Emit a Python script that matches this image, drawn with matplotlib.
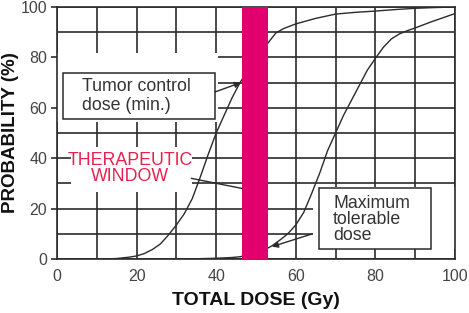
# Dose-response curves: tumour control vs. normal tissue complication, with the therapeutic window
import matplotlib
matplotlib.use('Agg')
import matplotlib.pyplot as plt
from matplotlib.patches import Rectangle

plt.rcParams['font.family'] = ['Liberation Sans', 'DejaVu Sans']

# tumour control probability
tumor_dose = [12, 15, 18, 20, 22, 24, 26, 28, 30, 32, 34, 36, 38, 40, 42, 44, 46,
              48, 50, 52, 53, 55, 57, 60, 65, 70, 75, 80, 85, 90, 95, 100]
tumor_prob = [0, 0.2, 0.7, 1.2, 2.2, 3.8, 6, 9.5, 13.5, 18, 24, 32.5, 41.5, 50, 57, 64, 70,
              75, 79.5, 83.5, 85.7, 89.7, 91.5, 93.3, 95.5, 97.2, 97.9, 98.4, 99, 99.5, 99.8, 100]

# maximum tolerable dose (normal tissue complication) curve
tox_dose = [30, 35, 40, 44, 46, 48, 50, 52, 54, 56, 58, 60, 62, 64, 66, 68, 70,
            72, 74, 76, 78, 80, 82, 84, 86, 88, 90, 92, 94, 96, 98, 100]
tox_prob = [0, 0.1, 0.3, 0.6, 0.9, 1.5, 2.3, 3.5, 5.2, 7.5, 10, 13.5, 18.5, 26, 34, 43, 50,
            57, 63, 69, 75, 79.6, 84, 87.3, 89.3, 90.6, 91.7, 92.9, 94.1, 95.2, 96.3, 97.4]

window = (46.5, 53)
major_ticks = [0, 20, 40, 60, 80, 100]
minor_ticks = list(range(0, 101, 10))

INK = '#2b2b2b'
RED = '#e8224f'
BAR = '#e2006f'

fig = plt.figure(figsize=(4.69, 3.13), dpi=100)
ax = fig.add_axes([0.1215, 0.1725, 0.8485, 0.805])
ax.set_xlim(0, 100)
ax.set_ylim(0, 100)
ax.set_xticks(major_ticks)
ax.set_yticks(major_ticks)
ax.set_xticks(minor_ticks, minor=True)
ax.set_yticks(minor_ticks, minor=True)
ax.set_axisbelow(True)
ax.grid(which='both', color=INK, lw=1.2)
ax.tick_params(which='minor', length=0)
ax.tick_params(axis='x', length=0, pad=7, labelsize=11.5, labelcolor='#444444')
ax.tick_params(axis='y', length=4, width=1.2, pad=3, color=INK, labelsize=11.5, labelcolor='#444444')
for s in ax.spines.values():
    s.set_color(INK)
    s.set_linewidth(1.2)

# white patches that blank the grid behind the labels
for x0, y0, w, h in [(0, 54.5, 40.5, 27.2), (3.5, 26.7, 30.5, 17.8), (64.3, 3.8, 35.7, 24.8)]:
    ax.add_patch(Rectangle((x0, y0), w, h, facecolor='white', edgecolor='none', zorder=1))

ax.plot(tumor_dose, tumor_prob, color=INK, lw=1.0, zorder=2)
ax.plot(tox_dose, tox_prob, color=INK, lw=1.0, zorder=2)
ax.axvspan(window[0], window[1], color=BAR, lw=0, zorder=3)

# label boxes
ax.add_patch(Rectangle((1.5, 55.6), 38.2, 18.2, facecolor='white', edgecolor=INK, lw=1.1, zorder=4))
ax.text(6.3, 64.7, 'Tumor control\ndose (min.)', ha='left', va='center', fontsize=12.8,
        color='#333333', linespacing=1.1, zorder=5)
ax.annotate('', xy=(46.2, 70), xytext=(39.7, 66.3),
            arrowprops=dict(arrowstyle='-|>', color=INK, lw=1.0, mutation_scale=9,
                            shrinkA=0, shrinkB=0), zorder=5)

ax.add_patch(Rectangle((65.8, 3.8), 28.3, 24.2, facecolor='white', edgecolor=INK, lw=1.1, zorder=4))
ax.text(69.4, 15.7, 'Maximum\ntolerable\ndose', ha='left', va='center', fontsize=12.8,
        color='#333333', linespacing=0.95, zorder=5)
ax.annotate('', xy=(54, 4.9), xytext=(64.2, 10),
            arrowprops=dict(arrowstyle='-|>', color=INK, lw=1.0, mutation_scale=9,
                            shrinkA=0, shrinkB=0), zorder=5)

ax.text(18.3, 36, 'THERAPEUTIC\nWINDOW', ha='center', va='center', fontsize=12.8,
        color=RED, linespacing=0.95, zorder=5)
ax.plot([33.8, window[0]], [32, 28], color=INK, lw=1.0, zorder=4)

ax.set_xlabel('TOTAL DOSE (Gy)', fontsize=14, fontweight='bold', color='#111111', labelpad=6)
ax.set_ylabel('PROBABILITY (%)', fontsize=13.5, fontweight='bold', color='#111111', labelpad=1)

fig.savefig('out.png', dpi=100)
